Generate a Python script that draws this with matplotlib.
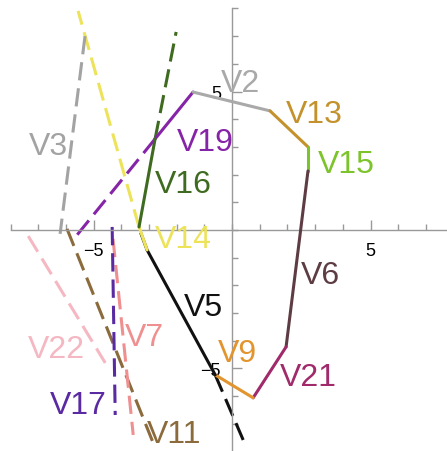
import matplotlib
matplotlib.use("Agg")
import matplotlib.pyplot as plt
from matplotlib.ticker import MultipleLocator, FixedLocator

plt.rcParams["font.family"] = ["Liberation Sans", "DejaVu Sans"]

# polygon vertices (boundary walked clockwise from V19/V16 corner)
A = (-2.78, 3.29)   # V19 & V16
B = (-1.41, 4.98)   # V19 & V2
C = (1.37, 4.30)    # V2 & V13
D = (2.74, 3.00)    # V13 & V15
E = (2.74, 2.13)    # V15 & V6
F = (1.95, -4.22)   # V6 & V21
G = (0.76, -6.06)   # V21 & V9
H = (-0.61, -5.23)  # V9 & V5
I = (-3.07, -0.72)  # V5 & V14
J = (-3.36, 0.11)   # V14 & V16

# solid edges: name -> (start, end)
solid = {
    "V19": (A, B), "V2": (B, C), "V13": (C, D), "V15": (D, E),
    "V6": (E, F), "V21": (F, G), "V9": (G, H), "V5": (H, I),
    "V14": (I, J), "V16": (J, A),
}

# dashed pieces outside the region
dashed = {
    "V19": [(A, (-5.63, -0.22))],
    "V16": [(A, (-2.02, 7.15))],
    "V14": [(J, (-5.56, 7.91))],
    "V5": [(I, (-3.39, 0.14)), (H, (0.43, -7.65))],
    "V3": [((-5.31, 7.00), (-6.21, -0.14))],
    "V11": [((-5.96, 0.04), (-2.82, -7.76))],
    "V22": [((-7.36, -0.22), (-4.58, -4.80))],
    "V7": [((-4.30, -0.32), (-3.57, -7.40))],
    "V17": [((-4.33, 0.11), (-4.22, -6.68))],
}

label_pos = {
    "V3": (-6.64, 3.03), "V19": (-0.97, 3.18), "V16": (-1.77, 1.66),
    "V2": (0.29, 5.31), "V13": (2.96, 4.19), "V15": (4.12, 2.38),
    "V6": (3.18, -1.62), "V21": (2.74, -5.31), "V9": (0.18, -4.44),
    "V5": (-1.05, -2.78), "V14": (-1.77, -0.32), "V7": (-3.18, -3.86),
    "V22": (-6.35, -4.30), "V17": (-5.56, -6.32), "V11": (-2.09, -7.36),
}

colors = {
    "V2": "#a9a9a9", "V3": "#a3a3a3", "V13": "#c4922c", "V15": "#7dc42c",
    "V6": "#5e3c44", "V21": "#a02a6a", "V9": "#e2952e", "V5": "#111111",
    "V14": "#ede35a", "V16": "#3f6b20", "V19": "#8624a8", "V22": "#f5b8c2",
    "V7": "#ef8f8f", "V17": "#5a2aa2", "V11": "#8b6a3c",
}

fig = plt.figure(figsize=(4.47, 4.52), dpi=100)
ax = fig.add_axes([0, 0, 1, 1])
ax.set_xlim(-8.38, 7.76)
ax.set_ylim(-7.98, 8.34)

for name, segs in dashed.items():
    for p, q in segs:
        ax.plot([p[0], q[0]], [p[1], q[1]], color=colors[name], lw=2.2,
                dashes=(6, 2.6), solid_capstyle="butt", zorder=2)

for name, (p, q) in solid.items():
    ax.plot([p[0], q[0]], [p[1], q[1]], color=colors[name], lw=2.2,
            solid_capstyle="round", zorder=3)

for name, (x, y) in label_pos.items():
    ax.text(x, y, name, color=colors[name], fontsize=23,
            ha="center", va="center", zorder=4)

# axes through the origin, Mathematica style
for s in ["top", "right"]:
    ax.spines[s].set_visible(False)
ax.spines["left"].set_position("zero")
ax.spines["bottom"].set_position("zero")
ax.spines["left"].set_bounds(-8, 8)
ax.spines["bottom"].set_bounds(-8, 8)
for s in ["left", "bottom"]:
    ax.spines[s].set_color("#999999")
    ax.spines[s].set_linewidth(1.0)

ax.xaxis.set_major_locator(FixedLocator([-5, 5]))
ax.yaxis.set_major_locator(FixedLocator([-5, 5]))
ax.xaxis.set_minor_locator(MultipleLocator(1))
ax.yaxis.set_minor_locator(MultipleLocator(1))
ax.set_xticklabels(["\u22125", "5"])
ax.set_yticklabels(["\u22125", "5"])
ax.tick_params(which="major", direction="in", length=7, width=1,
               color="#999999", labelsize=13, labelcolor="black")
ax.tick_params(which="minor", direction="in", length=4, width=1,
               color="#999999")
ax.tick_params(axis="x", which="major", pad=9)
ax.tick_params(axis="y", which="major", pad=8)

fig.savefig("out.png", dpi=100)
